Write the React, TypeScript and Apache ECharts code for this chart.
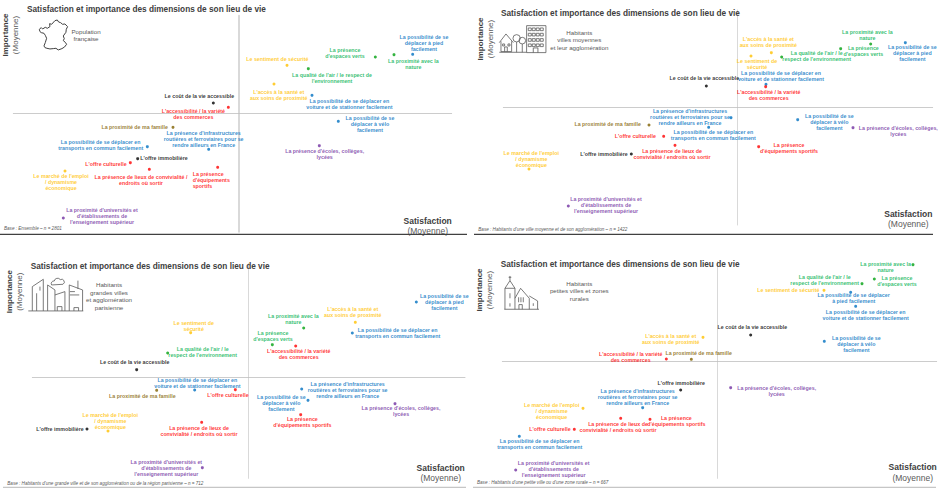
import React, { useEffect, useRef } from "react";
import * as echarts from "echarts";

const FONT = '"Liberation Sans", Arial, sans-serif';
const BLUE = "#0070C0", GREEN = "#00B050", ORANGE = "#FFC000", RED = "#FF0000", BLACK = "#000000", PURPLE = "#7030A0", OLIVE = "#7F6000";

const titleText = "Satisfaction et importance des dimensions de son lieu de vie";
const dimensionColors = [BLUE, GREEN, GREEN, ORANGE, GREEN, ORANGE, BLUE, BLACK, RED, BLUE, PURPLE, OLIVE, BLUE, BLUE, BLACK, RED, RED, RED, ORANGE, PURPLE];
const markerColors = dimensionColors.map((c) => (c === GREEN ? "#00A010" : c));

const pied = "La possibilité de se\ndéplacer à pied\nfacilement";
const verts = "La présence\nd'espaces verts";
const nature = "La proximité avec la\nnature";
const securite1 = "Le sentiment de sécurité";
const securite2 = "Le sentiment de\nsécurité";
const air1 = "La qualité de l'air / le respect de\nl'environnement";
const air2 = "La qualité de l'air / le\nrespect de l'environnement";
const sante = "L'accès à la santé et\naux soins de proximité";
const voiture = "La possibilité de se déplacer en\nvoiture et de stationner facilement";
const cout = "Le coût de la vie accessible";
const commerces = "L'accessibilité / la variété\ndes commerces";
const velo = "La possibilité de se\ndéplacer à vélo\nfacilement";
const ecoles = "La présence d'écoles, collèges,\nlycées";
const famille = "La proximité de ma famille";
const infra = "La présence d'infrastructures\nroutières et ferroviaires pour se\nrendre ailleurs en France";
const transports = "La possibilité de se déplacer en\ntransports en commun facilement";
const immo = "L'offre immobilière";
const culture = "L'offre culturelle";
const lieux1 = "La présence de lieux de convivialité /\nendroits où sortir";
const lieux2 = "La présence de lieux de\nconvivialité / endroits où sortir";
const sport1 = "La présence\nd'équipements\nsportifs";
const sport2 = "La présence\nd'équipements sportifs";
const emploi = "Le marché de l'emploi\n/ dynamisme\néconomique";
const univ = "La proximité d'universités et\nd'établissements de\nl'enseignement supérieur";

// Panel 1: Population française
const labelsA = [pied, verts, nature, securite1, air1, sante, voiture, cout, commerces, velo, ecoles, famille, infra, transports, immo, culture, lieux1, sport1, emploi, univ];
const satisfactionA = [521, 409, 465, 144, 208, 105, 219, -77, -32, 298, 241, -198, -91, -275, -304, -326, -269, -64, -522, -527];
const importanceA = [177, 169, 176, 144, 134, 88, 54, 31, 18, -24, -97, -42, -108, -100, -136, -148, -168, -162, -173, -314];

// Panel 2: villes moyennes
const labelsB = [pied, verts, nature, securite2, air2, sante, voiture, cout, commerces, velo, ecoles, famille, infra, transports, immo, culture, lieux2, sport2, emploi, univ];
const satisfactionB = [504, 310, 400, 41, 133, 102, 86, -93, 85, 181, 347, -265, -19, -86, -318, -221, -187, 64, -625, -507];
const importanceB = [194, 176, 190, 154, 151, 164, 69, 64, 62, -37, -61, -53, -31, -60, -140, -87, -114, -118, -185, -296];

// Panel 3: grandes villes
const labelsC = [pied, verts, nature, securite2, air2, sante, voiture, cout, commerces, velo, ecoles, famille, infra, transports, immo, culture, lieux2, sport2, emploi, univ];
const satisfactionC = [504, 72, 166, -173, -242, 321, -161, -335, 142, 179, 440, -275, 160, 312, -484, -39, -140, 157, -421, -138];
const importanceC = [226, 98, 148, 134, 73, 165, -38, 23, 94, -69, -79, -39, -35, 133, -155, -37, -135, -112, -161, -271];

// Panel 4: petites villes
const labelsD = ["La possibilité de se déplacer\nà pied facilement", verts, nature, securite1, air2, sante, voiture, cout, commerces, velo, ecoles, famille, infra, transports, immo, culture, lieux2, sport2, emploi, univ];
const satisfactionD = [400, 471, 587, 320, 434, -43, 415, 100, -153, 321, 40, -78, -224, -594, -110, -429, -290, -202, -403, -605];
const importanceD = [208, 248, 291, 214, 234, 73, 166, 80, 8, 61, -78, 7, -138, -224, -85, -203, -170, -173, -140, -325];

// Label placement (layout only), offset from each point
const placeA = [[34, -35], [-91, -11], [58, 29], [-29, -20], [71, 27], [14, 34], [112, 26], [-42, -21], [-105, 19], [95, 7], [16, 26], [-115, 0], [-15, -32], [-140, -6], [79, -2], [-73, 3], [-25, 31], [-75, 37, "left"], [-12, 33], [116, -6]];
const placeB = [[21, 31], [68, 7], [-10, -27], [18, 23], [105, -2], [-9, -32], [45, -25], [-6, -23], [9, 25], [95, 7], [136, 9], [-124, -3], [-123, -1], [14, 23], [-82, 0], [-85, 0], [-9, 27], [91, 4], [7, -30], [113, -4]];
const placeC = [[84, 1], [2, -26], [-31, -26], [9, -20], [105, -2], [-8, -31], [8, -21], [-6, -23], [9, 25], [-80, 9], [18, 23], [-43, 18], [138, 2], [136, 1], [-81, -1], [-22, 17], [-8, 27], [5, 21], [7, -31], [-108, 2]];
const placeD = [[9, 18], [68, 7], [-82, 6], [-107, -1], [-112, -11], [-97, 6], [30, 25], [5, -24], [-107, -6], [96, 8], [138, 10], [22, -18], [-15, -31], [61, 23], [2, -20], [-73, 0], [-8, 27], [79, 4], [-94, 8], [114, -4]];

const windows = (() => {
  let d = "";
  for (const y of [84, 100, 116, 132]) for (const x of [175, 187, 199, 211]) d += `M${x} ${y}h9v8h-9z`;
  return d;
})();
const iconFrance = "M118 88L124 83L128 87L136 82L142 85L150 80L149 71L155 73L165 62L172 60L176 66L182 68L188 73L195 72L203 80L199 88L198 97L190 108L193 116L190 122L196 127L200 133L194 141L186 146L175 150L168 145L160 146L150 147L141 145L135 143L132 138L136 128L140 115L136 106L132 100L124 98L120 95Z";
const iconVille = "M170 77H228V158H170ZM190 158V144H204V158M88 128L108 102L130 128M93 124V155H125V124M104 155V141H112V155M98 132h6v6h-6zM114 132h6v6h-6zM88 157H170M129 115a11 11 0 1 1 22 0a11 11 0 1 1 -22 0M140 126V157M147 122a10 10 0 1 1 20 0a10 10 0 1 1 -20 0M157 132V157" + windows;
const iconMetropole = "M85 213H250M97 213V140L130 118V213M110 213V160M120 140V152M143 213V135L165 150V165L195 155V213M165 165V213M172 213V200H186V213M155 135a8 8 0 0 1 8 -12a10 10 0 0 1 18 -4a8 8 0 0 1 8 14zM208 213V135L248 150V213M234 122V147M210 165H238M210 155H225M222 213V203H236V213";
const iconVillage = "M103 208H207M105 208V145L120 122L135 145V208M105 145H135M120 108V122M116 112H124M135 175L152 145L178 175V208M178 168L203 183V208M120 160V175M120 190V200M153 172V187M146 172V187M160 172V187M147 208V194H157V208M190 190V198";
echarts.graphic.registerShape("iconFrance", echarts.graphic.extendPath(iconFrance, {}) as any);
echarts.graphic.registerShape("iconVille", echarts.graphic.extendPath(iconVille, {}) as any);
echarts.graphic.registerShape("iconMetropole", echarts.graphic.extendPath(iconMetropole, {}) as any);
echarts.graphic.registerShape("iconVillage", echarts.graphic.extendPath(iconVillage, {}) as any);

const panels = [
  { labels: labelsA, sat: satisfactionA, imp: importanceA, place: placeA, ox: 0, oy: 0, x: [-677, 638], y: [-355, 293], vx: 717, hy: 340, vw: 2, base: "Base : Ensemble – n = 2801", baseX: 4, baseY: 228.7, titleX: 27, titleY: 5, impX: [5.7, 15.7], impY: 35, satX: 427.7, satY: [220.7, 231.3], sub: "Population\nfrançaise", subX: 86, subY: 35, icon: "iconFrance", iconStroke: 1, iconColor: "#404040" },
  { labels: labelsB, sat: satisfactionB, imp: importanceB, place: placeB, ox: 470, oy: 0, x: [-702, 586], y: [-353, 292], vx: 802, hy: 322, vw: 1, base: "Base : Habitants d'une ville moyenne et de son agglomération – n = 1422", baseX: 478.3, baseY: 229, titleX: 501, titleY: 9.5, impX: [480.3, 490], impY: 39, satX: 908.3, satY: [214, 224], sub: "Habitants\nvilles moyennes\net leur agglomération", subX: 579.3, subY: 39.7, icon: "iconVille", iconStroke: 0.8, iconColor: "#595959" },
  { labels: labelsC, sat: satisfactionC, imp: importanceC, place: placeC, ox: 0, oy: 240, x: [-648, 650], y: [-303, 342], vx: 745, hy: 412, vw: 1, base: "Base : Habitants d'une grande ville et de son agglomération ou de la région parisienne – n = 712", baseX: 7.3, baseY: 483, titleX: 30.7, titleY: 262.2, impX: [9, 19], impY: 291.7, satX: 440.7, satY: [467.7, 478], sub: "Habitants\ngrandes villes\net agglomération\nparisienne", subX: 109, subY: 296, icon: "iconMetropole", iconStroke: 0.8, iconColor: "#595959" },
  { labels: labelsD, sat: satisfactionD, imp: importanceD, place: placeD, ox: 470, oy: 240, x: [-645, 658], y: [-350, 300], vx: 742, hy: 365, vw: 1, base: "Base : Habitants d'une petite ville ou d'une zone rurale – n = 667", baseX: 477, baseY: 482, titleX: 500.7, titleY: 260.5, impX: [479, 489.3], impY: 290, satX: 912.7, satY: [467.3, 477.7], sub: "Habitants\npetites villes et zones\nrurales", subX: 579.3, subY: 290.7, icon: "iconVillage", iconStroke: 0.8, iconColor: "#595959" },
];

const separators = [
  { x1: 0, x2: 467, y: 234.3, stroke: "#404040", w: 1.3 },
  { x1: 474, x2: 933, y: 234.3, stroke: "#404040", w: 1.3 },
  { x1: 3, x2: 466, y: 487.3, stroke: "#A6A6A6", w: 0.8 },
  { x1: 473, x2: 936, y: 487.3, stroke: "#A6A6A6", w: 0.8 },
];

function buildOption() {
  const graphic: any[] = [];
  panels.forEach((p) => {
    const txt = (text: string, x: number, y: number, size: number, weight: string, fill: string, extra: any = {}, rotation = 0) => ({
      type: "text", x, y, rotation, silent: true, z: 5,
      style: { text, fontSize: size, fontWeight: weight, fontFamily: FONT, fill, textAlign: "center", textVerticalAlign: "middle", ...extra },
    });
    graphic.push(txt("Importance", p.impX[0], p.impY, 8, "bold", "#404040", {}, Math.PI / 2));
    graphic.push(txt("(Moyenne)", p.impX[1], p.impY, 8, "normal", "#595959", {}, Math.PI / 2));
    graphic.push(txt("Satisfaction", p.satX, p.satY[0], 8.5, "bold", "#404040"));
    graphic.push(txt("(Moyenne)", p.satX, p.satY[1], 8.5, "normal", "#595959"));
    graphic.push(txt(p.sub, p.subX, p.subY, 6.2, "normal", "#595959", { lineHeight: 7.4 }));
    graphic.push(txt(p.base, p.baseX, p.baseY, 4.6, "normal", "#595959", { textAlign: "left", fontStyle: "italic" }));
    graphic.push({
      type: p.icon, x: p.ox, y: p.oy, scaleX: 1 / 3, scaleY: 1 / 3, silent: true,
      style: { fill: "none", stroke: p.iconColor, lineWidth: p.iconStroke * 3 },
    });
  });
  separators.forEach((s) => {
    graphic.push({ type: "line", silent: true, z: 6, shape: { x1: s.x1, y1: s.y, x2: s.x2, y2: s.y }, style: { stroke: s.stroke, lineWidth: s.w } });
  });

  return {
    animation: false,
    backgroundColor: "#ffffff",
    textStyle: { fontFamily: FONT },
    title: panels.map((p) => ({
      text: titleText, left: p.titleX, top: p.titleY, padding: 0,
      textStyle: { fontSize: 8.25, fontWeight: "bold", color: "#404040", fontFamily: FONT },
    })),
    grid: panels.map((p) => ({
      left: p.ox + (p.vx + p.x[0]) / 3,
      top: p.oy + (p.hy - p.y[1]) / 3,
      width: (p.x[1] - p.x[0]) / 3,
      height: (p.y[1] - p.y[0]) / 3,
    })),
    xAxis: panels.map((p, i) => ({
      type: "value", gridIndex: i, min: p.x[0], max: p.x[1],
      axisLine: { show: true, onZero: true, lineStyle: { color: "#BFBFBF", width: 0.8 } },
      axisTick: { show: false }, axisLabel: { show: false }, splitLine: { show: false },
    })),
    yAxis: panels.map((p, i) => ({
      type: "value", gridIndex: i, min: p.y[0], max: p.y[1],
      axisLine: { show: true, onZero: true, lineStyle: { color: "#D9D9D9", width: p.vw } },
      axisTick: { show: false }, axisLabel: { show: false }, splitLine: { show: false },
    })),
    series: panels.map((p, i) => ({
      type: "scatter", xAxisIndex: i, yAxisIndex: i, symbol: "circle", symbolSize: 3, silent: true, z: 3,
      label: { show: true, position: "inside", fontSize: 5.3, fontWeight: "bold", lineHeight: 6, fontFamily: FONT, verticalAlign: "middle" },
      data: p.sat.map((s, j) => {
        const pl: any = p.place[j];
        return {
          value: [s, p.imp[j]],
          name: p.labels[j],
          itemStyle: { color: markerColors[j] },
          label: {
            formatter: p.labels[j], color: dimensionColors[j],
            align: pl[2] || "center",
            offset: [pl[0] / 3, pl[1] / 3],
          },
        };
      }),
    })),
    graphic,
  };
}

export default function App() {
  const ref = useRef<HTMLDivElement>(null);
  useEffect(() => {
    const chart = echarts.init(ref.current!, undefined, { renderer: "svg" });
    chart.setOption(buildOption() as any);
    return () => chart.dispose();
  }, []);
  return <div ref={ref} style={{ position: "absolute", left: 0, top: 0, width: 945, height: 489 }} />;
}
